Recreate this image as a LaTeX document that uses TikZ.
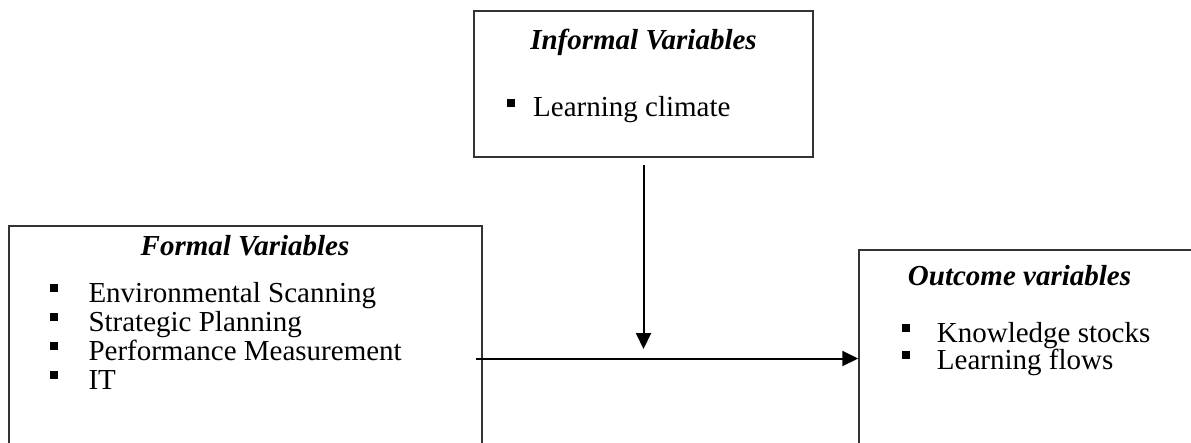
\documentclass[tikz,border=0pt]{standalone}
\usepackage{fontspec}
\setmainfont{Liberation Serif}
\usetikzlibrary{arrows.meta}
\tikzset{
  box/.style={draw=black!80, line width=1.5pt, inner sep=0pt, fill=none},
  title/.style={inner sep=0pt, anchor=base, font=\fontsize{29}{29}\selectfont\bfseries\itshape},
  item/.style={inner sep=0pt, anchor=base west, font=\fontsize{29}{29}\selectfont},
  bullet/.style={fill=black, inner sep=0pt, minimum size=8pt, draw=none},
  arr/.style={line width=2pt, -{Triangle[length=16pt,width=15pt]}}
}
\begin{document}
\begin{tikzpicture}[x=1pt,y=-1pt]
\useasboundingbox (0,0) rectangle (1191,442);
\clip (0,0) rectangle (1191,442);
% boxes
\node[box, minimum width=339pt, minimum height=146pt] (informal) at (643.5,84) {};
\node[box, minimum width=473pt, minimum height=260pt] (formal) at (245.5,356) {};
\node[box, minimum width=400pt, minimum height=240pt] (outcome) at (1059,370) {};
% informal
\node[title] (t1) at (643.5,49) {Informal Variables};
\node[bullet] (b1) at (511,102.5) {};
\node[item] (i1) at (533,116.7) {Learning climate};
% formal
\node[title] (t2) at (245,255) {Formal Variables};
\node[bullet] (b21) at (54,287.5) {};
\node[item] (i21) at (88.3,302) {Environmental Scanning};
\node[bullet] (b22) at (54,316.8) {};
\node[item] (i22) at (88.3,331.3) {Strategic Planning};
\node[bullet] (b23) at (54,346.1) {};
\node[item] (i23) at (88.3,360.6) {Performance Measurement};
\node[bullet] (b24) at (54,375.4) {};
\node[item] (i24) at (88.3,389.9) {IT};
% outcome
\node[title] (t3) at (1019.5,285) {Outcome variables};
\node[bullet] (b31) at (906,327.5) {};
\node[item] (i31) at (936.7,342) {Knowledge stocks};
\node[bullet] (b32) at (906,354.5) {};
\node[item] (i32) at (936.7,369) {Learning flows};
% connectors
\coordinate (vstart) at (643.5,165);
\coordinate (vtip) at (643.5,349);
\coordinate (hstart) at (476,358.5);
\draw[arr] (vstart) -- (vtip);
\draw[arr] (hstart) -- (hstart -| outcome.west);
\end{tikzpicture}
\end{document}
